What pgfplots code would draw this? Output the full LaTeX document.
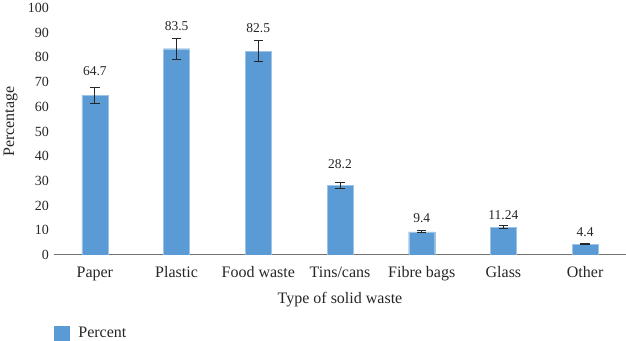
\documentclass[border=0pt]{standalone}
\usepackage{fontspec}
\setmainfont{Liberation Serif}
\usepackage{pgfplots}
\usepackage{pgfplotstable}
\pgfplotsset{compat=1.18}
\definecolor{barblue}{HTML}{5B9BD5}
\definecolor{txt}{HTML}{262626}
\newcommand{\fl}{\fontsize{16}{18}\selectfont}
\newcommand{\fy}{\fontsize{14}{16}\selectfont}
\newcommand{\fd}{\fontsize{13.5}{15}\selectfont}
\pgfplotstableread{
x y err ly label
0 64.7 3.25 74.4 64.7
1 83.5 4.2 92.8 83.5
2 82.5 4.2 91.8 82.5
3 28.2 1.2 36.6 28.2
4 9.4 0.4 15.0 9.4
5 11.24 0.7 16.2 11.24
6 4.4 0.2 9.1 4.4
}\wastedata
\begin{document}
\begin{tikzpicture}
\begin{axis}[
  name=ax,
  scale only axis,
  width=572pt, height=247pt,
  xmin=-0.5, xmax=6.5, ymin=0, ymax=100,
  axis lines*=left,
  x axis line style={draw=black!55, line width=1pt, -},
  y axis line style={draw=none},
  tick style={draw=none},
  major tick length=0pt,
  xtick=data,
  xticklabels={Paper,Plastic,Food waste,Tins/cans,Fibre bags,Glass,Other},
  ytick={0,10,...,100},
  xticklabel style={font=\fl, text=txt, anchor=north, inner sep=0pt, text height=11.5pt, text depth=3.5pt, yshift=-10.8pt},
  yticklabel style={font=\fy, text=txt, anchor=east, inner sep=0pt, xshift=-5pt},
  /pgf/number format/assume math mode=true,
  xlabel={Type of solid waste},
  ylabel={Percentage},
  xlabel style={font=\fl, text=txt, at={(axis description cs:0.5,0)}, anchor=north, inner sep=0pt, text height=11.5pt, text depth=3.5pt, yshift=-37pt},
  ylabel style={font=\fl, text=txt, at={(axis description cs:-0.0761,0.5405)}, anchor=center, inner sep=0pt, text height=11pt, text depth=3.5pt},
  legend style={at={(axis description cs:0,-0.3158)}, anchor=west, draw=none, fill=none, font=\fl, text=txt, inner sep=0pt, outer sep=0pt,
    nodes={inner sep=0pt}, /tikz/every odd column/.append style={column sep=9pt}},
  legend image code/.code={\fill[barblue] (0pt,-7pt) rectangle (15pt,7pt);},
]
\addplot[ybar, bar width=26pt, fill=barblue, draw=barblue!60!white, line width=0.4pt,
  error bars/.cd, y dir=both, y explicit,
  error bar style={color=txt, line width=1pt},
  error mark options={rotate=90, mark size=4.7pt, color=txt, line width=1pt}]
  table[x=x, y=y, y error=err] {\wastedata};
\addlegendentry{Percent}
\addplot[draw=none, mark=none, forget plot,
  nodes near coords, point meta=explicit symbolic,
  nodes near coords style={anchor=center, font=\fd, text=txt, inner sep=0pt}]
  table[x=x, y=ly, meta=label] {\wastedata};
\end{axis}
\pgfresetboundingbox
\path[use as bounding box] ([xshift=-54pt,yshift=-86pt]ax.south west) rectangle ([yshift=8pt]ax.north east);
\end{tikzpicture}
\end{document}
